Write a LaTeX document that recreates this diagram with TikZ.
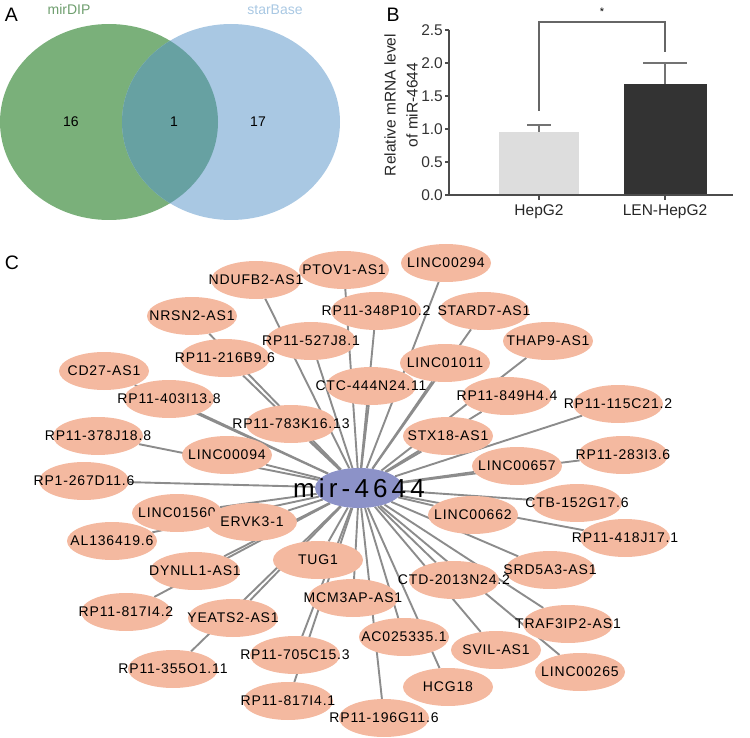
\documentclass[tikz,border=0pt]{standalone}
\usepackage{fontspec}
\setmainfont{Liberation Sans}
\newfontfamily\lncfont[LetterSpace=6]{Liberation Sans}
\newfontfamily\hubfont[LetterSpace=16]{Liberation Sans}
\usetikzlibrary{shapes.geometric,backgrounds}

\definecolor{venngreen}{HTML}{7AB07A}
\definecolor{vennblue}{HTML}{A9C8E3}
\definecolor{vennmix}{HTML}{67A1A2}
\definecolor{lncpink}{HTML}{F4B9A0}
\definecolor{hubblue}{HTML}{8C92C8}
\definecolor{edgegray}{HTML}{8C8C8C}
\definecolor{hepgray}{HTML}{DDDDDD}
\definecolor{lendark}{HTML}{333333}

\newcommand{\nolap}[1]{\makebox[0pt]{#1}}

\begin{document}
\begin{tikzpicture}[x=1pt,y=-1pt,
  lnc/.style={ellipse,fill=lncpink,minimum width=90pt,minimum height=38pt,inner sep=0pt,
    font=\lncfont\fontsize{14}{16}\selectfont},
  hub/.style={ellipse,fill=hubblue,minimum width=88pt,minimum height=40pt,inner sep=0pt,
    font=\hubfont\fontsize{26}{28}\selectfont},
  link/.style={draw=edgegray,line width=1.9pt},
  panel/.style={font=\fontsize{19.5}{21}\selectfont},
  axisline/.style={draw=black!70,line width=1.1pt},
  errbar/.style={draw=black!55,line width=1.5pt},
  tick/.style={anchor=east,inner sep=1pt,font=\fontsize{15.5}{17}\selectfont,text=black!80}]
\useasboundingbox (0,0) rectangle (750,738);

% panel A
\node[panel] (labA) at (11.5,15) {A};
\fill[venngreen] (109,122) ellipse [x radius=109pt, y radius=98pt];
\fill[vennblue] (231,122) ellipse [x radius=109pt, y radius=98pt];
\begin{scope}
\clip (109,122) ellipse [x radius=109pt, y radius=98pt];
\fill[vennmix] (231,122) ellipse [x radius=109pt, y radius=98pt];
\end{scope}
\node[font=\fontsize{14}{16}\selectfont,text=venngreen!90!black] (mirdip) at (69,9.5) {mirDIP};
\node[font=\fontsize{14}{16}\selectfont,text=vennblue] (starbase) at (275,9.5) {starBase};
\node[font=\fontsize{14}{16}\selectfont] (n16) at (71,122) {16};
\node[font=\fontsize{14}{16}\selectfont] (n1) at (174,122) {1};
\node[font=\fontsize{14}{16}\selectfont] (n17) at (258,122) {17};

% panel B
\node[panel] (labB) at (393,15) {B};
\fill[hepgray] (499,195) rectangle (579,132);
\fill[lendark] (624,195) rectangle (707,84);
\draw[errbar] (539,132) -- (539,125);
\draw[errbar] (527,125) -- (551,125);
\draw[errbar] (665,84) -- (665,63);
\draw[errbar] (643,63) -- (687,63);
\draw[axisline] (449,30) -- (449,195) -- (733,195);
\draw[axisline] (445,195) -- (449,195);
\draw[axisline] (445,162) -- (449,162);
\draw[axisline] (445,129) -- (449,129);
\draw[axisline] (445,96) -- (449,96);
\draw[axisline] (445,63) -- (449,63);
\draw[axisline] (445,30) -- (449,30);
\draw[axisline] (539,195) -- (539,200);
\draw[axisline] (665,195) -- (665,200);
\node[tick] (t00) at (444,195) {0.0};
\node[tick] (t05) at (444,162) {0.5};
\node[tick] (t10) at (444,129) {1.0};
\node[tick] (t15) at (444,96) {1.5};
\node[tick] (t20) at (444,63) {2.0};
\node[tick] (t25) at (444,30) {2.5};
\draw[draw=black!60,line width=1.3pt] (539,111) -- (539,22) -- (665,22) -- (665,52);
\node[font=\fontsize{11}{12}\selectfont] (sig) at (602,12) {*};
\node[font=\fontsize{15.5}{17}\selectfont,text=black!85] (xhep) at (539,212) {HepG2};
\node[font=\fontsize{15.5}{17}\selectfont,text=black!85] (xlen) at (665,212) {LEN-HepG2};
\node[rotate=90,align=center,font=\fontsize{15.5}{22}\selectfont,text=black!85] (ylab) at (401,105)
  {Relative mRNA level\\of miR-4644};

% panel C
\node[panel] (labC) at (12,263) {C};
\node[hub] (mir) at (359,488) {\nolap{mir-4644}};

\node[lnc] (ndufb2) at (256,280) {\nolap{NDUFB2-AS1}};
\node[lnc] (ptov1) at (344,270) {\nolap{PTOV1-AS1}};
\node[lnc] (linc294) at (446,263) {\nolap{LINC00294}};
\node[lnc] (rp348) at (376,311) {\nolap{RP11-348P10.2}};
\node[lnc] (stard7) at (484,311) {\nolap{STARD7-AS1}};
\node[lnc] (nrsn2) at (192,316) {\nolap{NRSN2-AS1}};
\node[lnc] (rp527) at (311,341) {\nolap{RP11-527J8.1}};
\node[lnc] (thap9) at (548,341) {\nolap{THAP9-AS1}};
\node[lnc] (rp216) at (225,358) {\nolap{RP11-216B9.6}};
\node[lnc] (linc1011) at (445,363) {\nolap{LINC01011}};
\node[lnc] (cd27) at (104,371) {\nolap{CD27-AS1}};
\node[lnc] (ctc444) at (371,386) {\nolap{CTC-444N24.11}};
\node[lnc] (rp849) at (507,396) {\nolap{RP11-849H4.4}};
\node[lnc] (rp403) at (169,399) {\nolap{RP11-403I13.8}};
\node[lnc] (rp115) at (618,404) {\nolap{RP11-115C21.2}};
\node[lnc] (rp783) at (291,424) {\nolap{RP11-783K16.13}};
\node[lnc] (stx18) at (448,436) {\nolap{STX18-AS1}};
\node[lnc] (rp378) at (98,436) {\nolap{RP11-378J18.8}};
\node[lnc] (linc94) at (227,455) {\nolap{LINC00094}};
\node[lnc] (linc657) at (517,466) {\nolap{LINC00657}};
\node[lnc] (rp283) at (623,455) {\nolap{RP11-283I3.6}};
\node[lnc] (rp267) at (84,481) {\nolap{RP1-267D11.6}};
\node[lnc] (linc1560) at (177,513) {\nolap{LINC01560}};
\node[lnc] (ervk3) at (252,522) {\nolap{ERVK3-1}};
\node[lnc] (linc662) at (473,515) {\nolap{LINC00662}};
\node[lnc] (ctb152) at (577,503) {\nolap{CTB-152G17.6}};
\node[lnc] (al136) at (112,541) {\nolap{AL136419.6}};
\node[lnc] (rp418) at (625,538) {\nolap{RP11-418J17.1}};
\node[lnc] (tug1) at (318,560) {\nolap{TUG1}};
\node[lnc] (dynll1) at (195,571) {\nolap{DYNLL1-AS1}};
\node[lnc] (srd5a3) at (550,570) {\nolap{SRD5A3-AS1}};
\node[lnc] (ctd2013) at (454,580) {\nolap{CTD-2013N24.2}};
\node[lnc] (mcm3ap) at (353,598) {\nolap{MCM3AP-AS1}};
\node[lnc] (rp817b) at (126,612) {\nolap{RP11-817I4.2}};
\node[lnc] (yeats2) at (233,618) {\nolap{YEATS2-AS1}};
\node[lnc] (traf3ip2) at (568,624) {\nolap{TRAF3IP2-AS1}};
\node[lnc] (ac025) at (404,637) {\nolap{AC025335.1}};
\node[lnc] (svil) at (496,650) {\nolap{SVIL-AS1}};
\node[lnc] (rp705) at (295,655) {\nolap{RP11-705C15.3}};
\node[lnc] (rp355) at (173,669) {\nolap{RP11-355O1.11}};
\node[lnc] (linc265) at (580,672) {\nolap{LINC00265}};
\node[lnc] (hcg18) at (448,687) {\nolap{HCG18}};
\node[lnc] (rp817a) at (288,701) {\nolap{RP11-817I4.1}};
\node[lnc] (rp196) at (384,718) {\nolap{RP11-196G11.6}};

\begin{scope}[on background layer]
\draw[link] (mir) -- (ndufb2);
\draw[link] (mir) -- (ptov1);
\draw[link] (mir) -- (linc294);
\draw[link] (mir) -- (rp348);
\draw[link] (mir) -- (stard7);
\draw[link] (mir) -- (nrsn2);
\draw[link] (mir) -- (rp527);
\draw[link] (mir) -- (thap9);
\draw[link] (mir) -- (rp216);
\draw[link] (mir) -- (linc1011);
\draw[link] (mir) -- (cd27);
\draw[link] (mir) -- (ctc444);
\draw[link] (mir) -- (rp849);
\draw[link] (mir) -- (rp403);
\draw[link] (mir) -- (rp115);
\draw[link] (mir) -- (rp783);
\draw[link] (mir) -- (stx18);
\draw[link] (mir) -- (rp378);
\draw[link] (mir) -- (linc94);
\draw[link] (mir) -- (linc657);
\draw[link] (mir) -- (rp283);
\draw[link] (mir) -- (rp267);
\draw[link] (mir) -- (linc1560);
\draw[link] (mir) -- (ervk3);
\draw[link] (mir) -- (linc662);
\draw[link] (mir) -- (ctb152);
\draw[link] (mir) -- (al136);
\draw[link] (mir) -- (rp418);
\draw[link] (mir) -- (tug1);
\draw[link] (mir) -- (dynll1);
\draw[link] (mir) -- (srd5a3);
\draw[link] (mir) -- (ctd2013);
\draw[link] (mir) -- (mcm3ap);
\draw[link] (mir) -- (rp817b);
\draw[link] (mir) -- (yeats2);
\draw[link] (mir) -- (traf3ip2);
\draw[link] (mir) -- (ac025);
\draw[link] (mir) -- (svil);
\draw[link] (mir) -- (rp705);
\draw[link] (mir) -- (rp355);
\draw[link] (mir) -- (linc265);
\draw[link] (mir) -- (hcg18);
\draw[link] (mir) -- (rp817a);
\draw[link] (mir) -- (rp196);
\end{scope}
\end{tikzpicture}
\end{document}
